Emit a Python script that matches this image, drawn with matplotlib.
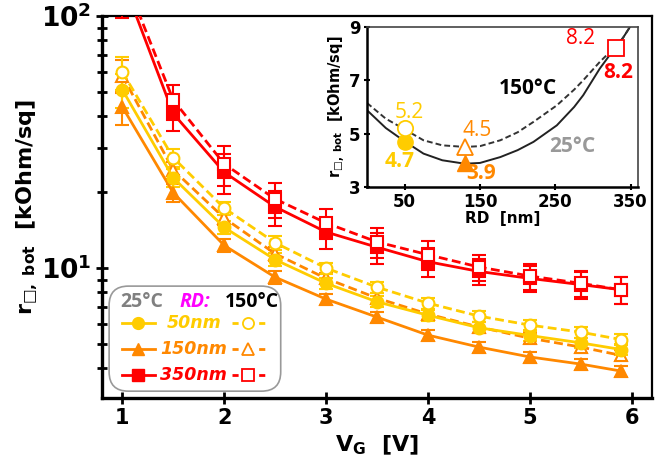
import matplotlib
matplotlib.use("Agg")
import matplotlib.pyplot as plt
import numpy as np
from matplotlib.patches import FancyBboxPatch
from matplotlib.lines import Line2D

# ---------------- data ----------------
vg = [1.0, 1.5, 2.0, 2.5, 3.0, 3.5, 4.0, 4.5, 5.0, 5.5, 5.9]

r50_25 = [51, 22.8, 14.5, 10.8, 8.7, 7.35, 6.5, 5.8, 5.4, 5.05, 4.75]
r50_150 = [60, 27.4, 17.3, 12.6, 10.0, 8.4, 7.26, 6.45, 5.94, 5.57, 5.2]
r150_25 = [43.6, 19.9, 12.3, 9.2, 7.53, 6.39, 5.42, 4.86, 4.44, 4.16, 3.9]
r150_150 = [58, 24.5, 15.8, 11.4, 9.1, 7.6, 6.57, 5.84, 5.27, 4.86, 4.5]
r350_25 = [140, 41, 24, 17.5, 13.9, 12.1, 10.6, 9.7, 9.1, 8.6, 8.2]
r350_150 = [150, 46.4, 25.9, 18.8, 15.1, 12.7, 11.3, 10.1, 9.3, 8.7, 8.2]

# relative error bars
err_small = [0.15, 0.08, 0.06, 0.06, 0.05, 0.05, 0.05, 0.05, 0.05, 0.05, 0.05]
err_red = [0.30, 0.15, 0.18, 0.16, 0.14, 0.14, 0.13, 0.12, 0.12, 0.12, 0.12]

# inset: fitted curves vs RD at VG = 5.9 V
rd_fit = [0, 25, 50, 75, 100, 130, 150, 177, 200, 221, 252, 275, 287, 309, 322, 330, 340, 349]
fit_25 = [5.88, 5.21, 4.71, 4.25, 4.0, 3.87, 3.9, 4.12, 4.38, 4.69, 5.31, 6.0, 6.44, 7.44, 7.94, 8.2, 8.6, 9.0]
fit_150 = [6.15, 5.56, 5.16, 4.75, 4.56, 4.5, 4.53, 4.75, 5.05, 5.44, 6.06, 6.65, 7.0, 7.69, 8.05, 8.25, 8.6, 9.0]
rd_pts = [50, 130, 330]
pts_25 = [4.7, 3.9, 8.2]
pts_150 = [5.2, 4.5, 8.2]

YEL = '#FFCC00'
ORG = '#FF8800'
RED = '#FF0000'

plt.rcParams['mathtext.fontset'] = 'dejavusans'
fig = plt.figure(figsize=(6.6, 4.65), dpi=100)
ax = fig.add_axes([0.1545, 0.144, 0.8333, 0.8215])

dash = (0, (3.2, 1.6))
lw = 2.0
ms = 8.5

def series(y, color, marker, filled, rel, ls):
    y = np.array(y)
    e = y * np.array(rel)
    ax.errorbar(vg, y, yerr=e, color=color, lw=lw, ls=ls, marker=marker, ms=ms,
                mfc=color if filled else 'white', mec=color, mew=1.5,
                ecolor=color, elinewidth=1.5, capsize=5, capthick=1.5, zorder=3)

series(r350_25, RED, 's', True, err_red, '-')
series(r350_150, RED, 's', False, err_red, dash)
series(r150_25, ORG, '^', True, err_small, '-')
series(r150_150, ORG, '^', False, err_small, dash)
series(r50_25, YEL, 'o', True, err_small, '-')
series(r50_150, YEL, 'o', False, err_small, dash)

ax.set_yscale('log')
ax.set_xlim(0.8, 6.2)
ax.set_ylim(3.05, 100)
ax.set_xticks([1, 2, 3, 4, 5, 6])
ax.set_xticklabels(['1', '2', '3', '4', '5', '6'], fontsize=15, fontweight='bold')
ax.set_yticks([10, 100])
ax.set_yticklabels([r'$\mathbf{10^{1}}$', r'$\mathbf{10^{2}}$'], fontsize=19)
ax.yaxis.set_minor_formatter(matplotlib.ticker.NullFormatter())
ax.tick_params(axis='both', which='both', direction='inout', width=2, length=8)
ax.tick_params(axis='y', which='minor', length=7, width=2)
for s in ['left', 'bottom']:
    ax.spines[s].set_linewidth(2.4)
for s in ['top', 'right']:
    ax.spines[s].set_linewidth(1.6)

ax.set_ylabel(r'$\mathbf{r_{□,\ bot}}$  [kOhm/sq]', fontsize=16, fontweight='bold', labelpad=1)
ax.set_xlabel(r'$\mathbf{V_{G}}$  [V]', fontsize=16, fontweight='bold', labelpad=4)

# ---------------- custom legend ----------------
box = FancyBboxPatch((0.013, 0.018), 0.312, 0.275, transform=ax.transAxes,
                     boxstyle='round,pad=0,rounding_size=0.035', fc='white', ec='#999999',
                     lw=1.2, zorder=6, mutation_aspect=550/382)
ax.add_patch(box)
tfont = dict(family='Open Sans', fontsize=14, fontweight='bold', transform=ax.transAxes,
             ha='center', va='center', zorder=7)
ax.text(0.073, 0.251, '25°C', color='#808080', **tfont)
ax.text(0.169, 0.251, 'RD:', color='#FF00FF', style='italic', **tfont)
ax.text(0.272, 0.251, '150°C', color='black', **tfont)
rows = [(0.196, YEL, 'o', '50nm'), (0.128, ORG, '^', '150nm'), (0.060, RED, 's', '350nm')]
for yy, c, m, lab in rows:
    ax.add_line(Line2D([0.036, 0.096], [yy, yy], transform=ax.transAxes, color=c, lw=lw, zorder=7))
    ax.add_line(Line2D([0.066], [yy], transform=ax.transAxes, color=c, marker=m, ms=ms,
                       mfc=c, mec=c, ls='none', zorder=8))
    ax.add_line(Line2D([0.237, 0.296], [yy, yy], transform=ax.transAxes, color=c, lw=lw,
                       ls=(0, (2.2, 2.6)), zorder=7))
    ax.add_line(Line2D([0.266], [yy], transform=ax.transAxes, color=c, marker=m, ms=ms - 0.5,
                       mfc='white', mec=c, mew=1.3, ls='none', zorder=8))
    ax.text(0.167, yy, lab, color=c, fontsize=12.5, fontweight='bold', style='italic',
            transform=ax.transAxes, ha='center', va='center', zorder=8)

# ---------------- inset ----------------
ins = fig.add_axes([0.556, 0.598, 0.411, 0.344])
ins.plot(rd_fit, fit_25, color='#222222', lw=1.4, zorder=2)
ins.plot(rd_fit, fit_150, color='#333333', lw=1.4, ls=(0, (3, 1.6)), zorder=2)
mk = ['o', '^', 's']
cols = [YEL, ORG, RED]
for i in range(3):
    if i < 2:
        ins.plot(rd_pts[i], pts_25[i], marker=mk[i], ms=11, color=cols[i], ls='none', zorder=3)
    ins.plot(rd_pts[i], pts_150[i], marker=mk[i], ms=11, mfc='white', mec=cols[i], mew=1.3,
             ls='none', zorder=4)
ins.set_xlim(0, 360)
ins.set_ylim(3, 9)
ins.set_xticks([50, 150, 250, 350])
ins.set_yticks([3, 5, 7, 9])
ins.set_xticklabels(['50', '150', '250', '350'], fontsize=12, fontweight='bold')
ins.set_yticklabels(['3', '5', '7', '9'], fontsize=12, fontweight='bold')
ins.tick_params(direction='inout', width=1.5, length=5, pad=2)
for s in ['left', 'bottom']:
    ins.spines[s].set_linewidth(1.8)
for s in ['top', 'right']:
    ins.spines[s].set_linewidth(1.2)
    ins.spines[s].set_color('#444444')
ins.set_xlabel('RD  [nm]', fontsize=11, fontweight='bold', labelpad=0)
ins.set_ylabel(r'$\mathbf{r_{□,\ bot}}$  [kOhm/sq]', fontsize=10.5, fontweight='bold', labelpad=1)

af = dict(family='Open Sans', ha='center', va='center', fontsize=15)
ins.text(56, 5.79, '5.2', color=YEL, **af)
ins.text(43, 3.94, '4.7', color=YEL, fontweight='bold', **af)
ins.text(146, 5.12, '4.5', color=ORG, **af)
ins.text(151, 3.52, '3.9', color=ORG, fontweight='bold', **af)
ins.text(283, 8.56, '8.2', color=RED, **af)
ins.text(333, 7.29, '8.2', color=RED, fontweight='bold', **af)
ins.text(214, 6.69, '150°C', color='black', fontweight='bold', **af)
ins.text(272, 4.5, '25°C', color='#999999', fontweight='bold', **af)

fig.savefig('out.png', dpi=100)
